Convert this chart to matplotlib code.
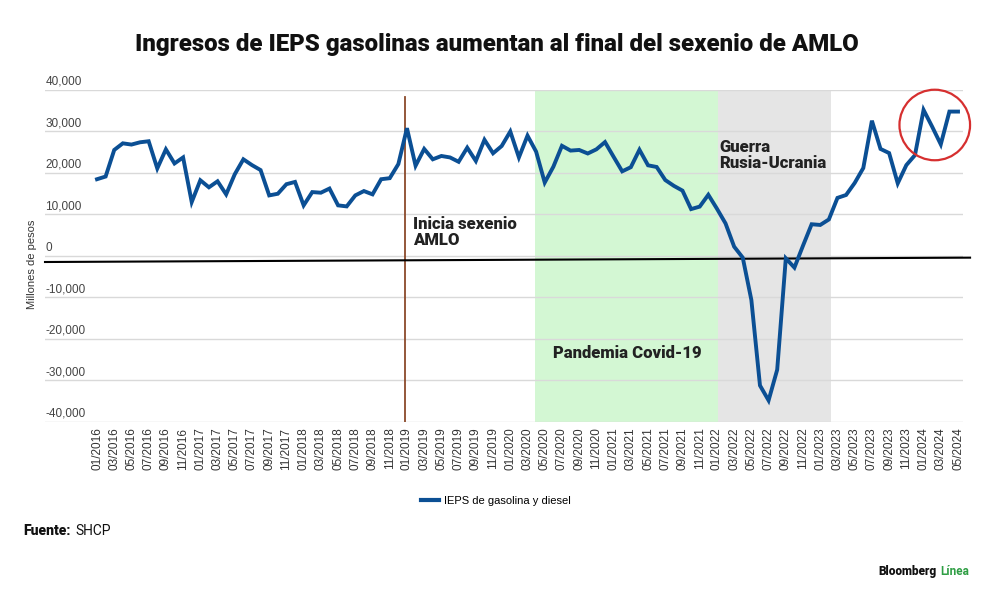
import matplotlib
matplotlib.use("Agg")
import matplotlib.pyplot as plt
from matplotlib.patches import Ellipse
from matplotlib.lines import Line2D

plt.rcParams['font.family'] = ['Roboto', 'DejaVu Sans']

# monthly IEPS revenue, 01/2016 .. 05/2024 (millones de pesos)
ieps = [18500, 19150, 25550, 27150, 26850, 27400, 27650, 21100, 25700, 22300,
        23750, 13000, 18250, 16550, 18000, 14850, 19700, 23300, 21900, 20700,
        14600, 15000, 17300, 17850, 12200, 15400, 15250, 16250, 12200, 11950,
        14600, 15650, 14850, 18500, 18750, 22150, 30800, 21750, 25800, 23300,
        24100, 23750, 22700, 26100, 22900, 28000, 24750, 26500, 30000, 23750,
        29000, 25150, 17700, 21500, 26550, 25400, 25550, 24700, 25700, 27450,
        23900, 20400, 21400, 25600, 21850, 21450, 18300, 16900, 15750, 11300,
        11900, 14750, 11400, 7850, 2250, -400, -10600, -31200, -34800, -27400,
        -560, -2800, 2500, 7650, 7480, 8800, 14000, 14700, 17600, 21200,
        32600, 25800, 24800, 17500, 21900, 24300, 35200, 31150, 26900, 34800,
        34800]

years = [2016, 2017, 2018, 2019, 2020, 2021, 2022, 2023, 2024]
months = ["%02d/%d" % (m, y) for y in years for m in range(1, 13)][:len(ieps)]
x = list(range(len(ieps)))

yticks = [-40000, -30000, -20000, -10000, 0, 10000, 20000, 30000, 40000]
ytick_labels = ["-40,000", "-30,000", "-20,000", "-10,000", "0",
                "10,000", "20,000", "30,000", "40,000"]

amlo_start = 35.8
covid = (50.9, 72.1)
guerra = (72.1, 85.3)

fig = plt.figure(figsize=(10, 6), dpi=100)
ax = fig.add_axes([0.045, 0.2967, 0.918, 0.5533])
ax.set_xlim(-6.04, 100.58)
ax.set_ylim(-40000, 40000)

ax.axvspan(covid[0], covid[1], color='#d3f7d3', lw=0, zorder=0)
ax.axvspan(guerra[0], guerra[1], color='#e5e5e5', lw=0, zorder=0)

for v, lab in zip(yticks, ytick_labels):
    ax.axhline(v, color='#d9d9d9', lw=1, zorder=1)
    ax.text(-6.0, v + 500, lab, fontsize=8.5, color='#444444',
            family=['Liberation Sans', 'DejaVu Sans'], va='bottom', ha='left')

ax.plot([amlo_start, amlo_start], [-40000, 38300], color='#8b4a2b', lw=1.3, zorder=2)
ax.plot([-6.04, 101.4], [-1450, -400], color='black', lw=1.5, zorder=2, clip_on=False)

ax.plot(x, ieps, color='#0b4f94', lw=2.8, zorder=3, solid_joinstyle='miter',
        label='IEPS de gasolina y diesel')

ax.add_patch(Ellipse((97.3, 31570), 8.2, 17000, fill=False, ec='#d62f2f', lw=1.6,
                     zorder=4, clip_on=False))

ax.text(36.7, 2000, "Inicia sexenio\nAMLO", fontsize=12, fontweight='heavy',
        color='#222222', va='bottom', ha='left', linespacing=1.0)
ax.text(53, -23300, "Pandemia Covid-19", fontsize=12, fontweight='heavy',
        color='#222222', va='center', ha='left')
ax.text(72.3, 20500, "Guerra\nRusia-Ucrania", fontsize=12, fontweight='heavy',
        color='#222222', va='bottom', ha='left', linespacing=1.0)

ax.set_xticks(x[::2])
ax.set_xticklabels(months[::2], rotation=90, fontsize=8.5, color='#333333',
                   family=['Liberation Sans', 'DejaVu Sans'])
ax.tick_params(axis='x', length=0, pad=4)
ax.set_yticks([])
for s in ax.spines.values():
    s.set_visible(False)

fig.text(0.032, 0.56, "Millones de pesos", rotation=90, fontsize=8, color='#333333',
         family=['Liberation Sans', 'DejaVu Sans'], ha='center', va='center')

fig.text(0.497, 0.925, "Ingresos de IEPS gasolinas aumentan al final del sexenio de AMLO",
         fontsize=17.3, fontweight='heavy', color='#111111', ha='center', va='center')

h = Line2D([], [], color='#0b4f94', lw=3)
fig.legend([h], ['IEPS de gasolina y diesel'], loc='center', bbox_to_anchor=(0.496, 0.165),
           frameon=False, handlelength=1.6, handletextpad=0.5,
           prop={'family': ['Liberation Sans', 'DejaVu Sans'], 'size': 8})

fig.text(0.023, 0.115, "Fuente:", fontsize=10, fontweight='heavy', color='#111111',
         ha='left', va='center')
fig.text(0.075, 0.115, "SHCP", fontsize=10, color='#111111', ha='left', va='center')

fig.text(0.878, 0.047, "Bloomberg", fontsize=8.5, fontweight='heavy', color='#111111',
         ha='left', va='center')
fig.text(0.940, 0.047, "Línea", fontsize=8.5, fontweight='bold', color='#2f9e44',
         ha='left', va='center')

fig.savefig("out.png", dpi=100)
